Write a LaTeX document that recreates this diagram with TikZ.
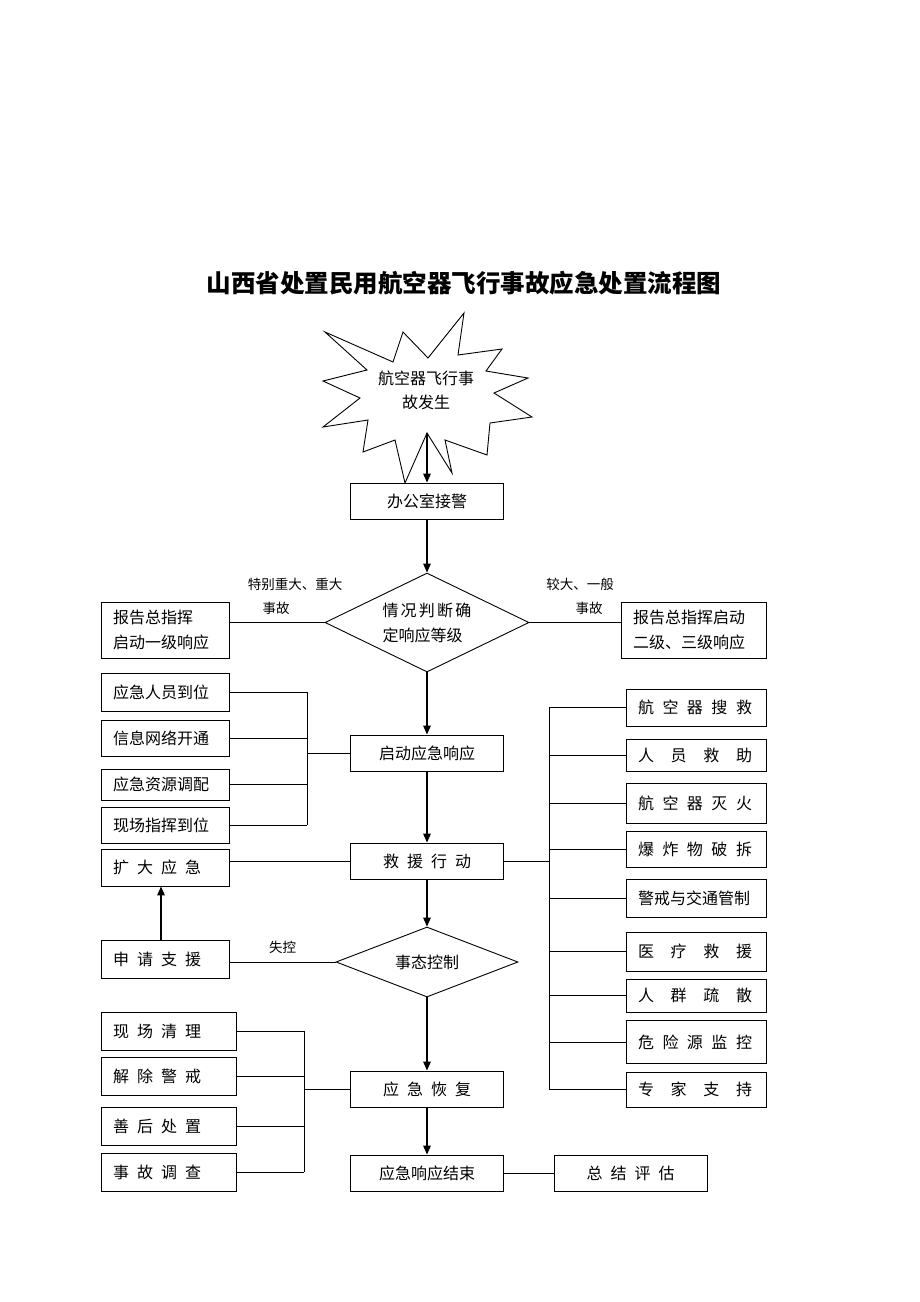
\documentclass[tikz,border=0pt]{standalone}
\usepackage{fontspec}
\newfontfamily\cjkfont{Noto Sans CJK SC}
\usetikzlibrary{shapes.geometric,arrows.meta}
% spread the characters of #2 over a width of #1
\makeatletter
\newcommand{\spreadtxt}[2]{\hbox to #1{\spread@first#2\relax}}
\def\spread@first#1{#1\spread@next}
\def\spread@next#1{\ifx#1\relax\else\hfill#1\expandafter\spread@next\fi}
\makeatother

\begin{document}
\begin{tikzpicture}[x=1pt,y=-1pt,
  box/.style={draw,line width=0.9pt,inner xsep=12pt,inner ysep=0pt,font=\cjkfont\fontsize{16}{25}\selectfont},
  cbox/.style={box,minimum width=153pt,minimum height=36pt,align=center},
  lbox/.style={box,text width=104pt,minimum height=#1,align=left},
  lbox/.default=36pt,
  rbox/.style={box,text width=116pt,minimum height=#1,align=left},
  bbox/.style={box,text width=111pt,minimum height=38pt,align=left},
  dia/.style={diamond,draw,line width=0.9pt,inner sep=0pt,aspect=2,align=left,font=\cjkfont\fontsize{16}{25}\selectfont},
  lbl/.style={font=\cjkfont\fontsize{13.5}{16}\selectfont},
  arr/.style={-{Triangle[length=9pt,width=7.5pt]},line width=1.4pt},
  link/.style={line width=0.8pt}]
\useasboundingbox (0,0) rectangle (920,1302);

% title
\node[font=\cjkfont\bfseries\fontsize{24.5}{28}\selectfont] (title) at (464,283) {山西省处置民用航空器飞行事故应急处置流程图};

% accident
\draw[line width=0.9pt,fill=white] (464,313) -- (458,355) -- (502,349) -- (486,371) -- (528,378) -- (494,393)
  -- (532,417) -- (490,423) -- (487,455) -- (445,440) -- (452,473) -- (427,433) -- (405,483) -- (395,440)
  -- (363,452) -- (368,420) -- (323,427) -- (360,398) -- (323,381) -- (367,370) -- (325,332) -- (393,362)
  -- (403,332) -- (428,358) -- cycle;
\node[font=\cjkfont\fontsize{16}{24}\selectfont,align=center] (crash) at (426,390) {航空器飞行事\\故发生};
\coordinate (crashfoot) at (427,433);

\node[cbox] (office) at (427,501) {办公室接警};

% judging the level
\node[dia,minimum width=204pt,minimum height=99pt] (judge) at (427,622.5) {\spreadtxt{89pt}{情 况 判 断 确}\\定响应等级};
\node[lbox=56pt] (rep1) at (165,630) {报告总指挥\\启动一级响应};
\node[box,text width=121pt,minimum height=56pt,align=left] (rep2) at (693.5,630) {报告总指挥启动\\二级、三级响应};
\node[lbl] (lvl1a) at (295,584) {特别重大、重大};
\node[lbl] (lvl1b) at (276,608) {事故};
\node[lbl] (lvl2a) at (580,584) {较大、一般};
\node[lbl] (lvl2b) at (589,608) {事故};

% response
\node[cbox] (startresp) at (427,753) {启动应急响应};
\node[lbox=38pt] (p1) at (165,692) {应急人员到位};
\node[lbox] (p2) at (165,738) {信息网络开通};
\node[lbox=31pt] (p3) at (165,784.5) {应急资源调配};
\node[lbox] (p4) at (165,825) {现场指挥到位};
\coordinate (lbus) at (307,753);

% rescue
\node[cbox] (rescue) at (427,861) {\spreadtxt{88pt}{救 援 行 动}};
\node[lbox=37pt] (expand) at (165,867.5) {\spreadtxt{88pt}{扩 大 应 急}};
\node[lbox=38pt] (apply) at (165,959) {\spreadtxt{88pt}{申 请 支 援}};
\node[dia,minimum width=182pt,minimum height=70pt] (control) at (427,962) {事态控制};
\coordinate (rbus) at (549,861);
\node[rbox=37pt] (r1) at (696,707.5) {\spreadtxt{114pt}{航 空 器 搜 救}};
\node[rbox=32pt] (r2) at (696,755) {\spreadtxt{114pt}{人 员 救 助}};
\node[rbox=40pt] (r3) at (696,803) {\spreadtxt{114pt}{航 空 器 灭 火}};
\node[rbox=36pt] (r4) at (696,849) {\spreadtxt{114pt}{爆 炸 物 破 拆}};
\node[rbox=38pt] (r5) at (696,898) {警戒与交通管制};
\node[rbox=39pt] (r6) at (696,951.5) {\spreadtxt{114pt}{医 疗 救 援}};
\node[rbox=33pt] (r7) at (696,995.5) {\spreadtxt{114pt}{人 群 疏 散}};
\node[rbox=43pt] (r8) at (696,1042) {\spreadtxt{114pt}{危 险 源 监 控}};
\node[rbox=35pt] (r9) at (696,1089.5) {\spreadtxt{114pt}{专 家 支 持}};

% recovery
\node[cbox] (recover) at (427,1089) {\spreadtxt{88pt}{应 急 恢 复}};
\node[bbox] (b1) at (168.5,1031) {\spreadtxt{88pt}{现 场 清 理}};
\node[bbox] (b2) at (168.5,1076) {\spreadtxt{88pt}{解 除 警 戒}};
\node[bbox] (b3) at (168.5,1126) {\spreadtxt{88pt}{善 后 处 置}};
\node[bbox] (b4) at (168.5,1172) {\spreadtxt{88pt}{事 故 调 查}};
\coordinate (lbus2) at (304,1089);
\node[cbox] (endresp) at (427,1173) {应急响应结束};
\node[cbox] (summary) at (630.5,1173) {\spreadtxt{88pt}{总 结 评 估}};

% main flow
\draw[arr] (crashfoot) -- (office);
\draw[arr] (office) -- (judge);
\draw[arr] (judge) -- (startresp);
\draw[arr] (startresp) -- (rescue);
\draw[arr] (rescue) -- (control);
\draw[arr] (control) -- (recover);
\draw[arr] (recover) -- (endresp);
\draw[arr] ([xshift=-4pt]apply.north) -- ([xshift=-4pt]expand.south);

% side links
\draw[link] (judge.west -| rep1.east) -- (judge.west);
\draw[link] (judge.east) -- (judge.east -| rep2.west);
\draw[link] (rescue.west -| expand.east) -- (rescue.west);
\draw[link] (control.west -| apply.east) -- node[lbl,above=5pt] (lost) {失控} (control.west);
\draw[link] (endresp) -- (summary);

\draw[link] (p1.east) -- (p1.east -| lbus);
\draw[link] (p2.east) -- (p2.east -| lbus);
\draw[link] (p3.east) -- (p3.east -| lbus);
\draw[link] (p4.east) -- (p4.east -| lbus);
\draw[link] (p1.east -| lbus) -- (p4.east -| lbus);
\draw[link] (lbus) -- (startresp.west);

\draw[link] (rescue.east) -- (rbus);
\draw[link] (rbus |- r1) -- (rbus |- r9);
\draw[link] (rbus |- r1) -- (r1.west);
\draw[link] (rbus |- r2) -- (r2.west);
\draw[link] (rbus |- r3) -- (r3.west);
\draw[link] (rbus |- r4) -- (r4.west);
\draw[link] (rbus |- r5) -- (r5.west);
\draw[link] (rbus |- r6) -- (r6.west);
\draw[link] (rbus |- r7) -- (r7.west);
\draw[link] (rbus |- r8) -- (r8.west);
\draw[link] (rbus |- r9) -- (r9.west);

\draw[link] (b1.east) -- (b1.east -| lbus2);
\draw[link] (b2.east) -- (b2.east -| lbus2);
\draw[link] (b3.east) -- (b3.east -| lbus2);
\draw[link] (b4.east) -- (b4.east -| lbus2);
\draw[link] (b1.east -| lbus2) -- (b4.east -| lbus2);
\draw[link] (lbus2) -- (recover.west);
\end{tikzpicture}
\end{document}
